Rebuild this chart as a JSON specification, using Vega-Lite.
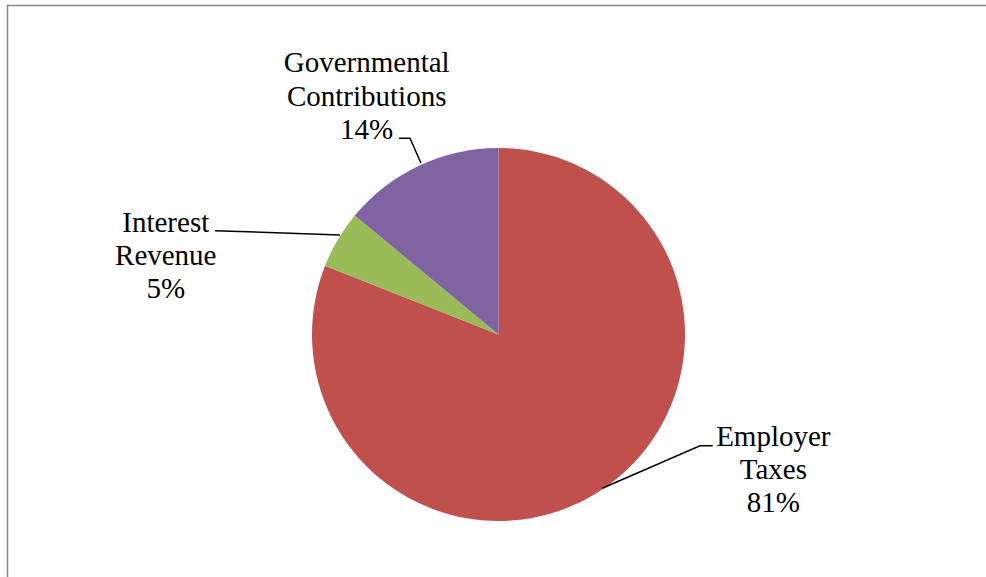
{
  "$schema": "https://vega.github.io/schema/vega-lite/v6.json",
  "width": 982,
  "height": 658,
  "autosize": {"type": "none"},
  "padding": {"left": 7.5, "top": 5.5, "right": -3.5, "bottom": -86.5},
  "background": "white",
  "view": {"stroke": "#868686", "strokeWidth": 1.5, "fill": "white"},
  "config": {"view": {"stroke": "#868686", "strokeWidth": 1.5}},
  "data": {
    "values": [
      {"source": "Employer Taxes", "pct": 81, "label": "Employer\nTaxes\n81%"},
      {"source": "Interest Revenue", "pct": 5, "label": "Interest\nRevenue\n5%"},
      {"source": "Governmental Contributions", "pct": 14, "label": "Governmental\nContributions\n14%"}
    ]
  },
  "layer": [
    {
      "mark": {"type": "arc", "outerRadius": 186.5},
      "encoding": {
        "theta": {"field": "pct", "type": "quantitative", "stack": true, "scale": {"range": [5.08938, 11.37257]}},
        "order": {"field": "source", "sort": "descending"},
        "color": {
          "field": "source",
          "type": "nominal",
          "scale": {
            "domain": ["Employer Taxes", "Interest Revenue", "Governmental Contributions"],
            "range": ["#C0504D", "#9BBB59", "#8064A2"]
          },
          "legend": null
        }
      }
    },
    {
      "mark": {"type": "point", "filled": false, "stroke": "black", "strokeWidth": 1.5, "size": 4, "opacity": 1},
      "encoding": {
        "shape": {
          "field": "source",
          "type": "nominal",
          "scale": {
            "domain": ["Employer Taxes", "Interest Revenue", "Governmental Contributions"],
            "range": [
              "M103.8,153.8L201.5,111.2L214.2,111.2",
              "M-158.5,-99.5L-283.5,-103.8",
              "M-77.5,-171.2L-88.5,-196.2L-99.5,-196.2"
            ]
          },
          "legend": null
        }
      }
    },
    {
      "mark": {"type": "text", "radius": 186.5, "dx": 170, "dy": -42.8, "align": "center", "baseline": "alphabetic", "font": "Liberation Serif", "fontSize": 29, "lineBreak": "\n", "lineHeight": 33, "color": "black"},
      "encoding": {
        "theta": {"field": "pct", "type": "quantitative", "stack": true, "scale": {"range": [5.08938, 11.37257]}},
        "order": {"field": "source", "sort": "descending"},
        "text": {"condition": {"test": "datum.source === 'Employer Taxes'", "field": "label"}, "value": ""}
      }
    },
    {
      "mark": {"type": "text", "radius": 186.5, "dx": -172.2, "dy": -7.1, "align": "center", "baseline": "alphabetic", "font": "Liberation Serif", "fontSize": 29, "lineBreak": "\n", "lineHeight": 33, "color": "black"},
      "encoding": {
        "theta": {"field": "pct", "type": "quantitative", "stack": true, "scale": {"range": [5.08938, 11.37257]}},
        "order": {"field": "source", "sort": "descending"},
        "text": {"condition": {"test": "datum.source === 'Interest Revenue'", "field": "label"}, "value": ""}
      }
    },
    {
      "mark": {"type": "text", "radius": 186.5, "dx": -52.4, "dy": -93.4, "align": "center", "baseline": "alphabetic", "font": "Liberation Serif", "fontSize": 29, "lineBreak": "\n", "lineHeight": 33.5, "color": "black"},
      "encoding": {
        "theta": {"field": "pct", "type": "quantitative", "stack": true, "scale": {"range": [5.08938, 11.37257]}},
        "order": {"field": "source", "sort": "descending"},
        "text": {"condition": {"test": "datum.source === 'Governmental Contributions'", "field": "label"}, "value": ""}
      }
    }
  ]
}
